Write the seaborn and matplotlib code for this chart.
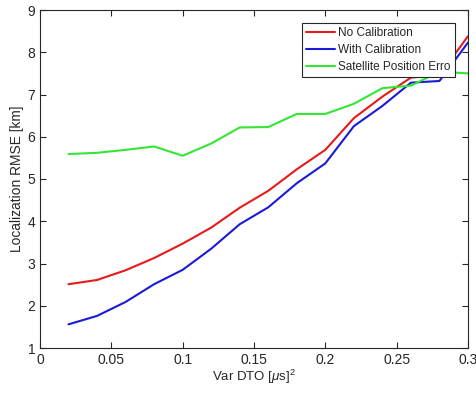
import matplotlib
matplotlib.use("Agg")
import matplotlib.pyplot as plt
import seaborn as sns
import pandas as pd

x_vals = [0.02, 0.04, 0.06, 0.08, 0.10, 0.12, 0.14, 0.16, 0.18, 0.20, 0.22, 0.24, 0.26, 0.28, 0.30]
no_cal = [2.51, 2.61, 2.84, 3.13, 3.47, 3.85, 4.32, 4.72, 5.23, 5.69, 6.44, 6.95, 7.40, 7.46, 8.38]
with_cal = [1.56, 1.76, 2.09, 2.51, 2.85, 3.35, 3.93, 4.33, 4.90, 5.37, 6.25, 6.73, 7.28, 7.32, 8.23]
sat_err = [5.59, 5.62, 5.69, 5.77, 5.55, 5.84, 6.22, 6.23, 6.54, 6.54, 6.78, 7.15, 7.21, 7.54, 7.50]
series_names = ["No Calibration", "With Calibration", "Satellite Position Erro"]
colors = ["#e61a1a", "#1a1ad9", "#33e633"]

df = pd.concat([
    pd.DataFrame({"x": x_vals, "y": vals, "series": name})
    for name, vals in zip(series_names, [no_cal, with_cal, sat_err])
])

sns.set_theme(style="white")
plt.rcParams["font.family"] = ["Liberation Sans", "DejaVu Sans"]
plt.rcParams["mathtext.fontset"] = "custom"
plt.rcParams["mathtext.it"] = "Liberation Sans:italic"
plt.rcParams["mathtext.rm"] = "Liberation Sans"

fig = plt.figure(figsize=(4.77, 3.96), dpi=100)
ax = fig.add_axes([40 / 477, 1 - 348 / 396, 428 / 477, 338 / 396])
sns.lineplot(data=df, x="x", y="y", hue="series", palette=colors, linewidth=1.5, ax=ax)

ax.set_xlim(0, 0.3)
ax.set_ylim(1, 9)
ax.set_xticks([0, 0.05, 0.1, 0.15, 0.2, 0.25, 0.3])
ax.set_xticklabels(["0", "0.05", "0.1", "0.15", "0.2", "0.25", "0.3"])
ax.set_yticks(range(1, 10))
ax.tick_params(direction="in", length=4, width=0.8, colors="#262626", labelsize=10,
               top=True, right=True, bottom=True, left=True, labelcolor="#262626")
for s in ax.spines.values():
    s.set_color("#262626")
    s.set_linewidth(0.8)
ax.set_xlabel(r"Var DTO [$\mu$s]$^2$", fontsize=9.5, color="#262626", labelpad=1)
ax.set_ylabel("Localization RMSE [km]", fontsize=9.9, color="#262626", labelpad=2)

leg = ax.legend(loc="upper right", bbox_to_anchor=(0.9696, 0.9607), fontsize=8.5, frameon=True,
                fancybox=False, edgecolor="#262626", framealpha=1, handlelength=2.45,
                borderpad=0.35, labelspacing=0.42, handletextpad=0.3, borderaxespad=0)
leg.get_frame().set_linewidth(0.8)

fig.savefig("out.png", dpi=100)
